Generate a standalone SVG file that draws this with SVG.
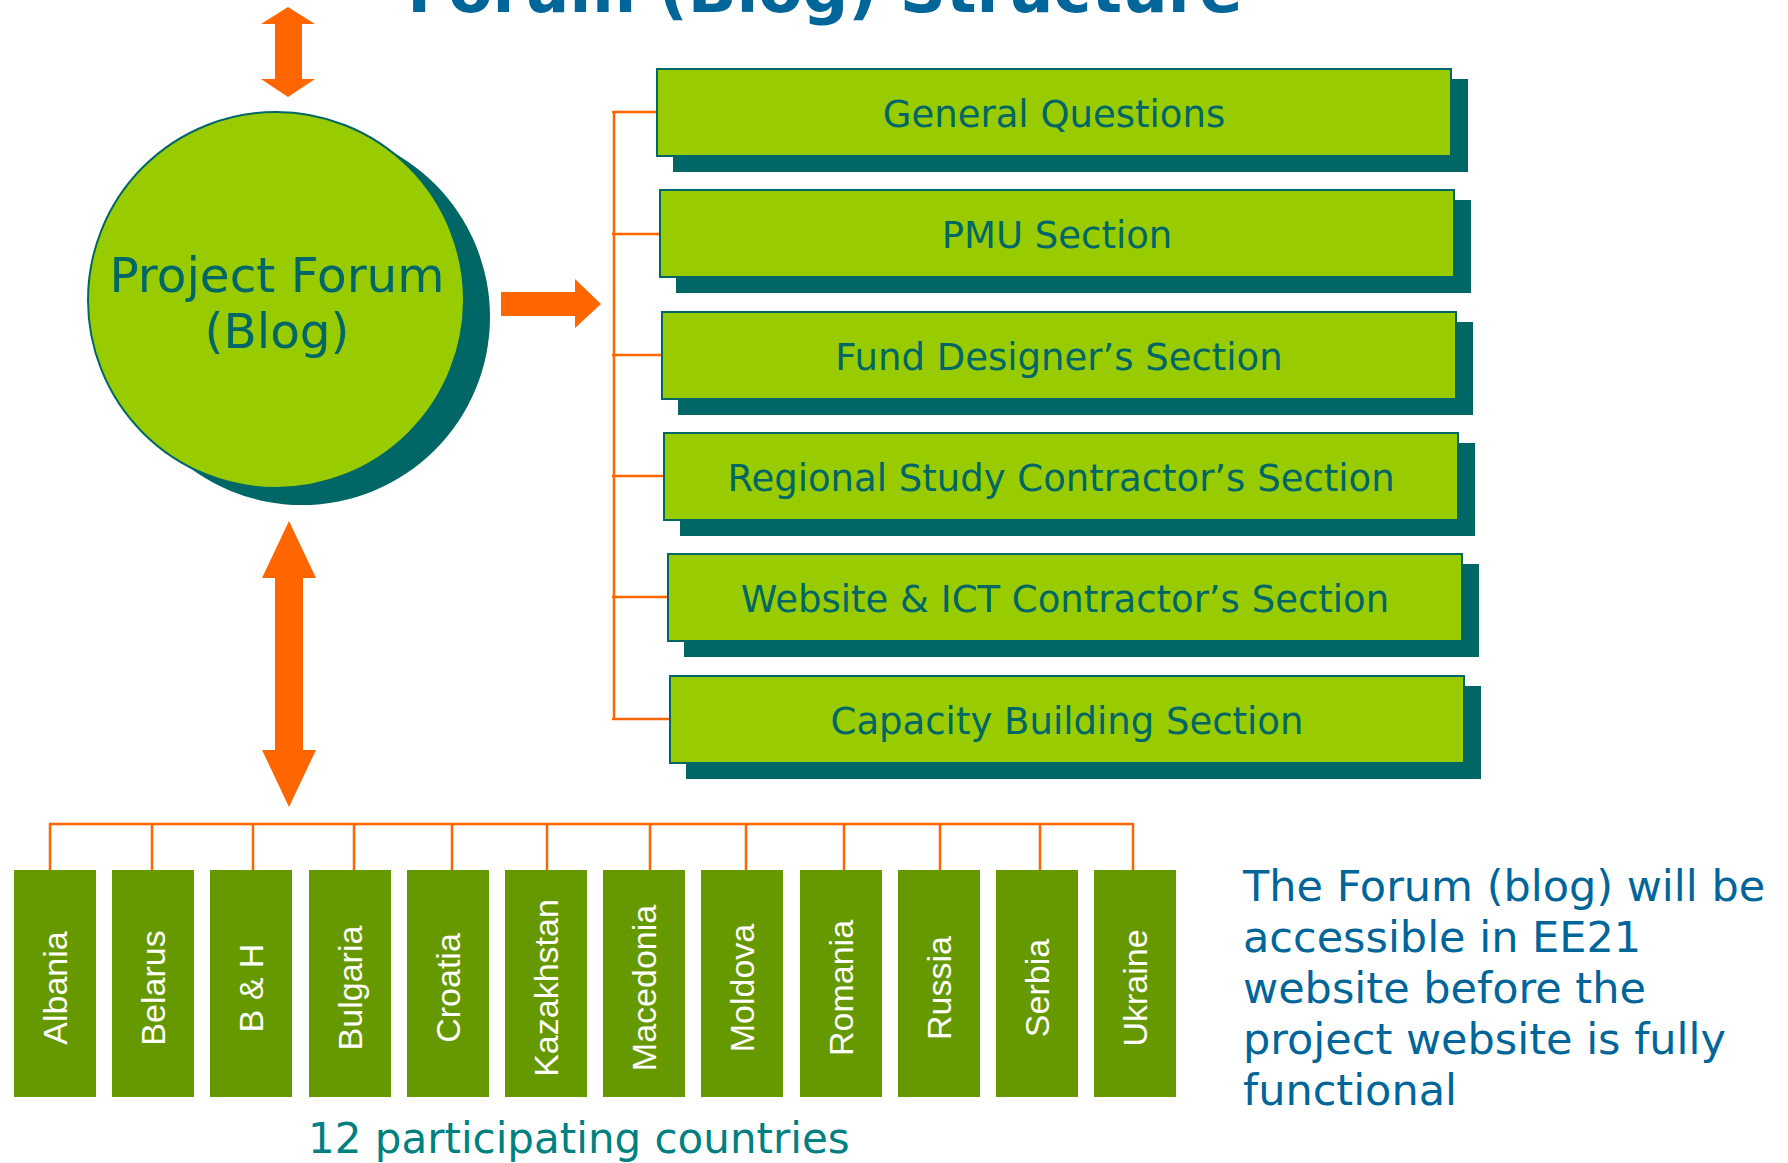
<svg xmlns="http://www.w3.org/2000/svg" width="1788" height="1163" viewBox="0 0 1788 1163">
<style>
.title{font-family:"DejaVu Sans",Verdana,sans-serif;font-weight:bold;font-size:64px;fill:#006699;text-anchor:middle}
.sec{fill:#99CC00;stroke:#006666;stroke-width:2}
.shd{fill:#006666}
.st{font-family:"DejaVu Sans",Verdana,sans-serif;font-size:37px;fill:#006666;text-anchor:middle}
.ct{fill:#669900}
.cl{font-family:"Liberation Sans",Arial,sans-serif;font-size:34px;fill:#FFFFFF;text-anchor:middle}
.arr{fill:#FF6600}
.ln{stroke:#FF6600;stroke-width:2.5;fill:none}
.note{font-family:"DejaVu Sans",Verdana,sans-serif;font-size:43px;fill:#006699}
.cap{font-family:"DejaVu Sans",Verdana,sans-serif;font-size:42px;fill:#008080}
</style>
<rect width="1788" height="1163" fill="#FFFFFF"/>
<text class="title" x="825" y="12">Forum (Blog) Structure</text>

<g id="connectors">
  <polygon class="arr" points="288,7 315,24 302,24 302,79 315,79 288,97 261,79 275,79 275,24 261,24"/>
  <polygon class="arr" points="501,292 575,292 575,279 601,304 575,328 575,316 501,316"/>
  <polygon class="arr" points="289,521 316,578 303,578 303,750 316,750 289,807 262,750 275,750 275,578 262,578"/>
  <path class="ln" d="M614,112 V719 M612,112 H659 M612,234 H661 M612,355 H663 M612,476 H665 M612,597 H669 M612,719 H671"/>
  <path class="ln" stroke-width="3" d="M49,824 H1134"/>
  <path class="ln" d="M50,824 V870 M152,824 V870 M253,824 V870 M354,824 V870 M452,824 V870 M547,824 V870 M650,824 V870 M746,824 V870 M844,824 V870 M940,824 V870 M1040,824 V870 M1133,824 V870"/>
</g>

<g id="forum">
  <circle class="shd" cx="302" cy="317" r="188"/>
  <circle cx="276" cy="300" r="188" fill="#99CC00" stroke="#006666" stroke-width="2"/>
  <text class="st" style="font-size:48.5px" x="277" y="292">Project Forum</text>
  <text class="st" style="font-size:48.5px" x="277" y="348">(Blog)</text>
</g>

<g id="sec-general">
  <rect class="shd" x="673" y="79" width="795" height="93"/>
  <rect class="sec" x="657" y="69" width="794" height="87"/>
  <text class="st" x="1054" y="127">General Questions</text>
</g>
<g id="sec-pmu">
  <rect class="shd" x="676" y="200" width="795" height="93"/>
  <rect class="sec" x="660" y="190" width="794" height="87"/>
  <text class="st" x="1057" y="248">PMU Section</text>
</g>
<g id="sec-fund">
  <rect class="shd" x="678" y="322" width="795" height="93"/>
  <rect class="sec" x="662" y="312" width="794" height="87"/>
  <text class="st" x="1059" y="370">Fund Designer’s Section</text>
</g>
<g id="sec-regional">
  <rect class="shd" x="680" y="443" width="795" height="93"/>
  <rect class="sec" x="664" y="433" width="794" height="87"/>
  <text class="st" x="1061" y="491">Regional Study Contractor’s Section</text>
</g>
<g id="sec-website">
  <rect class="shd" x="684" y="564" width="795" height="93"/>
  <rect class="sec" x="668" y="554" width="794" height="87"/>
  <text class="st" x="1065" y="612">Website &amp; ICT Contractor’s Section</text>
</g>
<g id="sec-capacity">
  <rect class="shd" x="686" y="686" width="795" height="93"/>
  <rect class="sec" x="670" y="676" width="794" height="87"/>
  <text class="st" x="1067" y="734">Capacity Building Section</text>
</g>

<g id="c-albania"><rect class="ct" x="14" y="870" width="82" height="227"/><text class="cl" transform="translate(67,988) rotate(-90)">Albania</text></g>
<g id="c-belarus"><rect class="ct" x="112" y="870" width="82" height="227"/><text class="cl" transform="translate(165,988) rotate(-90)">Belarus</text></g>
<g id="c-bh"><rect class="ct" x="210" y="870" width="82" height="227"/><text class="cl" transform="translate(263,988) rotate(-90)">B &amp; H</text></g>
<g id="c-bulgaria"><rect class="ct" x="309" y="870" width="82" height="227"/><text class="cl" transform="translate(362,988) rotate(-90)">Bulgaria</text></g>
<g id="c-croatia"><rect class="ct" x="407" y="870" width="82" height="227"/><text class="cl" transform="translate(460,988) rotate(-90)">Croatia</text></g>
<g id="c-kazakhstan"><rect class="ct" x="505" y="870" width="82" height="227"/><text class="cl" transform="translate(558,988) rotate(-90)">Kazakhstan</text></g>
<g id="c-macedonia"><rect class="ct" x="603" y="870" width="82" height="227"/><text class="cl" transform="translate(656,988) rotate(-90)">Macedonia</text></g>
<g id="c-moldova"><rect class="ct" x="701" y="870" width="82" height="227"/><text class="cl" transform="translate(754,988) rotate(-90)">Moldova</text></g>
<g id="c-romania"><rect class="ct" x="800" y="870" width="82" height="227"/><text class="cl" transform="translate(853,988) rotate(-90)">Romania</text></g>
<g id="c-russia"><rect class="ct" x="898" y="870" width="82" height="227"/><text class="cl" transform="translate(951,988) rotate(-90)">Russia</text></g>
<g id="c-serbia"><rect class="ct" x="996" y="870" width="82" height="227"/><text class="cl" transform="translate(1049,988) rotate(-90)">Serbia</text></g>
<g id="c-ukraine"><rect class="ct" x="1094" y="870" width="82" height="227"/><text class="cl" transform="translate(1147,988) rotate(-90)">Ukraine</text></g>

<text class="cap" x="308" y="1153">12 participating countries</text>
<g id="note">
  <text class="note" x="1243" y="901">The Forum (blog) will be</text>
  <text class="note" x="1243" y="952">accessible in EE21</text>
  <text class="note" x="1243" y="1003">website before the</text>
  <text class="note" x="1243" y="1054">project website is fully</text>
  <text class="note" x="1243" y="1105">functional</text>
</g>
</svg>
